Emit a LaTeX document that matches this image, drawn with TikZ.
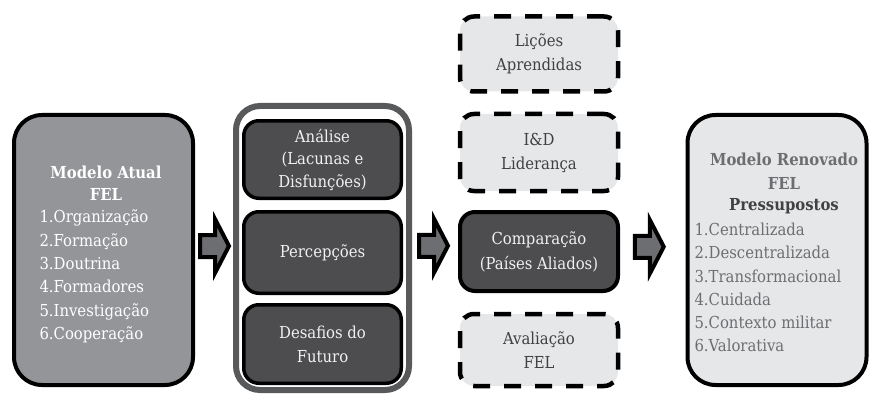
\documentclass[tikz,border=0pt]{standalone}
\usepackage{fontspec}
\setmainfont{DejaVu Serif Condensed}
\usetikzlibrary{calc}
\definecolor{gLeft}{HTML}{939598}
\definecolor{gDark}{HTML}{4D4D4F}
\definecolor{gArrow}{HTML}{6D6E71}
\definecolor{gLight}{HTML}{E6E7E8}
\definecolor{gFrame}{HTML}{58595B}
\definecolor{gText}{HTML}{6D6E71}
\definecolor{gTextD}{HTML}{414042}
\tikzset{
  txt/.style={font=\fontsize{16.5}{23.3}\selectfont},
  bigbox/.style={draw=black, line width=4pt, rounded corners=28pt, minimum width=179pt, minimum height=270pt},
  frame/.style={draw=gFrame, line width=6pt, rounded corners=24pt, fill=white, minimum width=173pt, minimum height=284pt},
  darkbox/.style={draw=black, line width=3.5pt, rounded corners=15pt, fill=gDark, minimum width=157.5pt, text=white!94!black, align=center},
  dashbox/.style={draw=black, line width=4.5pt, dash pattern=on 17pt off 14pt, rounded corners=14pt, fill=gLight, minimum width=158pt, text=gTextD, align=center},
  blockarrow/.pic={\draw[black, line width=4pt, fill=gArrow, miter limit=10]
     (-14,-11) -- (1,-11) -- (1,-27) -- (15,0) -- (1,27) -- (1,11) -- (-14,11) -- cycle;},
}
\begin{document}
\begin{tikzpicture}[x=1pt,y=-1pt]
\useasboundingbox (0,0) rectangle (887,396);
% left box
\node[bigbox, fill=gLeft] (left) at (103.5,250) {};
\node[text=white, align=center, font=\fontsize{16.5}{21.5}\selectfont\bfseries] (lefttitle) at (106,183) {Modelo Atual\\FEL};
\node[txt, text=white, align=left, anchor=west] (leftlist) at (36,276.5) {1.Organização\\2.Formação\\3.Doutrina\\4.Formadores\\5.Investigação\\6.Cooperação};
% middle frame
\node[frame] (mid) at (322.5,248) {};
\node[darkbox, minimum height=77.5pt, font=\fontsize{16.5}{22.5}\selectfont] (ana) at (322.5,159.5) {Análise\\(Lacunas e\\Disfunções)};
\node[darkbox, minimum height=81.5pt, font=\fontsize{16.5}{22.5}\selectfont] (perc) at (322.5,252.5) {Percepções};
\node[darkbox, minimum height=78.5pt, font=\fontsize{16.5}{24}\selectfont] (desa) at (322.5,344) {Desafios do\\Futuro};
% right column
\node[dashbox, minimum height=75pt, font=\fontsize{16.5}{24}\selectfont] (lic) at (539,54) {Lições\\Aprendidas};
\node[dashbox, minimum height=77pt, font=\fontsize{16.5}{24}\selectfont] (id) at (539,152.5) {I\&D\\Liderança};
\node[darkbox, minimum width=158pt, line width=4pt, minimum height=79pt, font=\fontsize{16.5}{25}\selectfont] (comp) at (539,251.5) {Comparação\\(Países Aliados)};
\node[dashbox, minimum height=72pt, font=\fontsize{16.5}{24}\selectfont] (aval) at (539,350) {Avaliação\\FEL};
% right box
\node[bigbox, fill=gLight] (right) at (777,250) {};
\node[text=gText, align=center, font=\fontsize{16.5}{23.5}\selectfont\bfseries] (righttitle) at (784,171) {Modelo Renovado\\FEL};
\node[text=gTextD, font=\fontsize{16.5}{23.5}\selectfont\bfseries] (pres) at (784,206) {Pressupostos};
\node[txt, text=gText, align=left, anchor=west] (rightlist) at (691,287.5) {1.Centralizada\\2.Descentralizada\\3.Transformacional\\4.Cuidada\\5.Contexto militar\\6.Valorativa};
% block arrows
\pic at ($(left.east)!0.5!(mid.west)+(0,-3)$) {blockarrow};
\pic at ($(mid.east)!0.5!(comp.west)+(-2,-4)$) {blockarrow};
\pic at ($(comp.east)!0.5!(right.west)+(-4,-4)$) {blockarrow};
\end{tikzpicture}
\end{document}
